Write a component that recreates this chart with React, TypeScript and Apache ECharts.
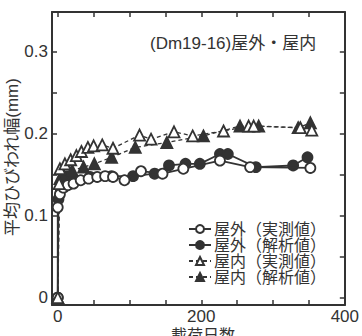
import React, { useEffect, useRef } from "react";
import * as echarts from "echarts";

const outdoorMeasured: [number, number][] = [
  [0, 0], [0, 0.11], [3, 0.126], [8, 0.134], [14, 0.137], [22, 0.139], [32, 0.143], [43, 0.145],
  [55, 0.147], [66, 0.148], [77, 0.147], [93, 0.143], [116, 0.154], [146, 0.151], [175, 0.157],
  [226, 0.167], [268, 0.159], [352, 0.158],
];
const outdoorAnalysis: [number, number][] = [
  [0, 0], [1, 0.12], [4, 0.133], [8, 0.143], [13, 0.148], [20, 0.146], [45, 0.147], [75, 0.148],
  [105, 0.148], [135, 0.151], [155, 0.161], [178, 0.163], [198, 0.163], [226, 0.175], [237, 0.175],
  [276, 0.159], [328, 0.161], [348, 0.171],
];
const indoorMeasured: [number, number][] = [
  [0, 0], [2, 0.139], [3, 0.157], [10, 0.163], [18, 0.168], [26, 0.173], [33, 0.178], [42, 0.183],
  [50, 0.185], [62, 0.186], [77, 0.182], [114, 0.198], [130, 0.193], [162, 0.202], [188, 0.197],
  [231, 0.203], [266, 0.209], [273, 0.209], [338, 0.207], [354, 0.204],
];
const indoorAnalysis: [number, number][] = [
  [0, 0], [3, 0.145], [8, 0.15], [20, 0.155], [36, 0.159], [51, 0.163], [75, 0.171], [108, 0.183],
  [152, 0.189], [203, 0.197], [254, 0.209], [280, 0.209], [335, 0.207], [352, 0.213],
];

const seriesNames = ["屋外（実測値）", "屋外（解析値）", "屋内（実測値）", "屋内（解析値）"];
const xTicks = [0, 50, 100, 150, 200, 250, 300, 350, 400];
const xLabels = [0, 200, 400];
const yTicks = [0, 0.05, 0.1, 0.15, 0.2, 0.25, 0.3, 0.35];
const yLabels = [0, 0.1, 0.2, 0.3];
const titleText = "(Dm19-16)屋外・屋内";
const xName = "載荷日数";
const yName = "平均ひびわれ幅(mm)";

const FONT = "'Liberation Sans', 'Noto Sans CJK JP', sans-serif";
const INK = "#333333";

export default function App() {
  const ref = useRef<HTMLDivElement>(null);
  useEffect(() => {
    if (!ref.current) return;
    const chart = echarts.init(ref.current, undefined, { renderer: "svg" });
    const axisBase = {
      axisLine: { show: true, onZero: false, lineStyle: { color: INK, width: 2 } },
      splitLine: { show: false },
    };
    const mk = (name: string, data: [number, number][], symbol: string, filled: boolean, dashed: boolean) => ({
      name,
      type: "line",
      data,
      symbol,
      symbolSize: symbol === "circle" ? 10 : 11,
      xAxisIndex: 0,
      yAxisIndex: 0,
      lineStyle: { color: INK, width: dashed ? 1.3 : 1.8, type: dashed ? [4, 3] : "solid" },
      itemStyle: { color: filled ? INK : "#fff", borderColor: INK, borderWidth: 1.8 },
      emphasis: { disabled: true },
      z: filled ? 3 : 4,
    });
    chart.setOption({
      animation: false,
      backgroundColor: "#fff",
      textStyle: { fontFamily: FONT },
      grid: { left: 52, right: 15, top: 12, bottom: 31 },
      title: {
        text: titleText,
        left: 145,
        top: 30,
        textStyle: { fontSize: 17, fontWeight: "normal", color: INK, fontFamily: FONT },
      },
      legend: {
        orient: "vertical",
        left: 183,
        top: 216,
        itemWidth: 22,
        itemHeight: 10,
        itemGap: 0,
        textStyle: { fontSize: 16, lineHeight: 16, color: INK, fontFamily: FONT, padding: [0, 0, 0, -2] },
        data: seriesNames,
      },
      xAxis: [
        {
          ...axisBase,
          type: "value",
          min: -8,
          max: 400,
          position: "bottom",
          axisTick: { show: true, inside: true, length: 5, customValues: xTicks, lineStyle: { color: INK, width: 1.5 } },
          axisLabel: { customValues: xLabels, fontSize: 17, lineHeight: 17, color: INK, margin: 3, fontFamily: FONT },
        },
        {
          ...axisBase,
          type: "value",
          min: -8,
          max: 400,
          position: "top",
          axisTick: { show: true, inside: true, length: 5, customValues: xTicks, lineStyle: { color: INK, width: 1.5 } },
          axisLabel: { show: false },
        },
      ],
      yAxis: [
        {
          ...axisBase,
          type: "value",
          min: -0.009,
          max: 0.348,
          position: "left",
          axisTick: { show: true, inside: true, length: 5, customValues: yTicks, lineStyle: { color: INK, width: 1.5 } },
          axisLabel: {
            customValues: yLabels,
            fontSize: 17,
            color: INK,
            margin: 4,
            fontFamily: FONT,
            formatter: (v: number) => (v === 0 ? "0" : v.toFixed(1)),
          },
        },
        {
          ...axisBase,
          type: "value",
          min: -0.009,
          max: 0.348,
          position: "right",
          axisTick: { show: true, inside: true, length: 5, customValues: yTicks, lineStyle: { color: INK, width: 1.5 } },
          axisLabel: { show: false },
        },
      ],
      graphic: [
        {
          type: "text",
          x: 12,
          y: 157,
          rotation: Math.PI / 2,
          style: {
            text: yName,
            fontSize: 17,
            fill: INK,
            fontFamily: FONT,
            align: "center",
            verticalAlign: "middle",
          },
        },
        {
          type: "text",
          x: 203,
          y: 327,
          style: {
            text: xName,
            fontSize: 16,
            fill: INK,
            fontFamily: FONT,
            align: "center",
            verticalAlign: "top",
          },
        },
      ],
      series: [
        mk(seriesNames[0], outdoorMeasured, "circle", false, false),
        mk(seriesNames[1], outdoorAnalysis, "circle", true, false),
        mk(seriesNames[2], indoorMeasured, "triangle", false, true),
        mk(seriesNames[3], indoorAnalysis, "triangle", true, true),
      ],
    });
    return () => chart.dispose();
  }, []);
  return <div ref={ref} style={{ width: 362, height: 336, position: "absolute", left: 0, top: 0 }} />;
}
